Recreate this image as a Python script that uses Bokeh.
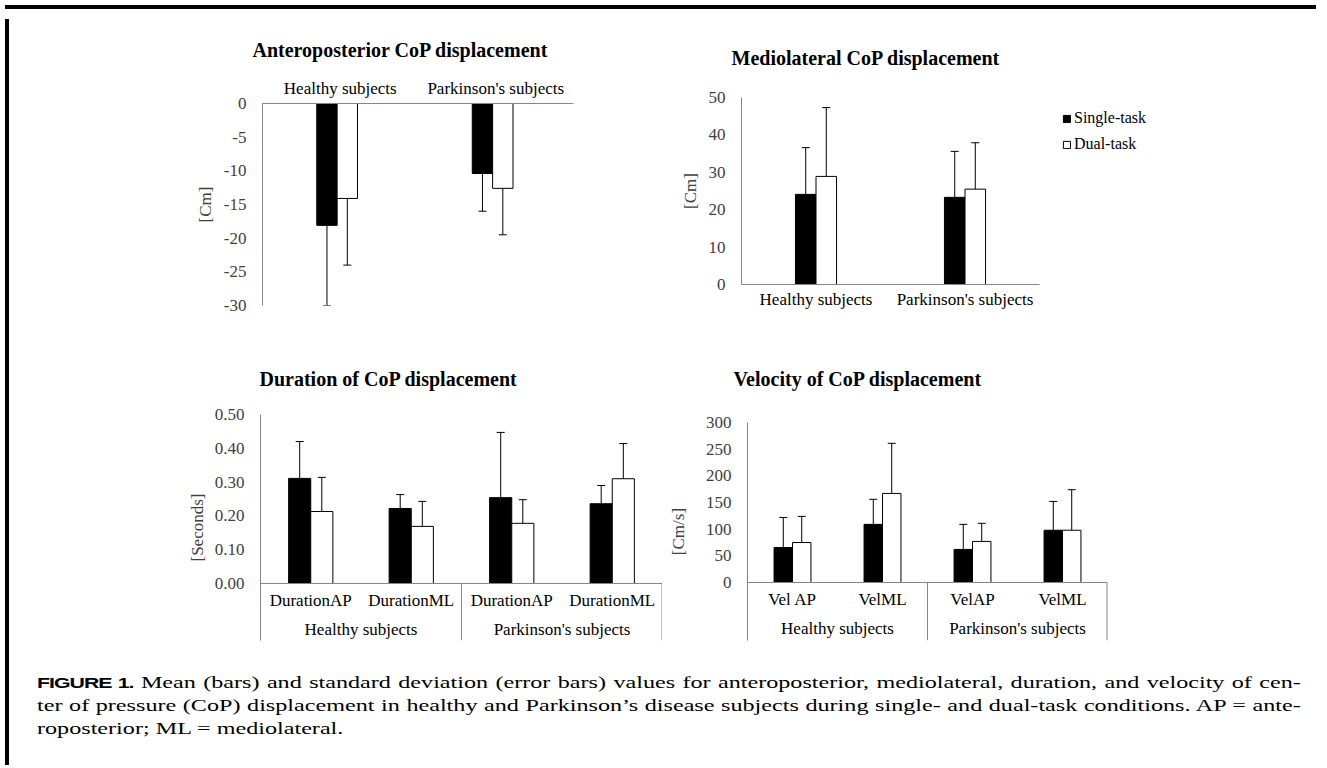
import numpy as np
from bokeh.plotting import figure
from bokeh.models import (ColumnDataSource, FactorRange, Range1d, FixedTicker, Whisker, TeeHead,
                          Legend, LegendItem, CategoricalAxis, Div, NumeralTickFormatter)
from bokeh.transform import dodge
from bokeh.layouts import column, row
from bokeh.embed import file_html
from bokeh.resources import INLINE

SERIF = "Liberation Serif"
AXIS_GRAY = "#868686"
TICK_COLOR = "#404040"

# ---------------- data ----------------
groups = ["Healthy subjects", "Parkinson's subjects"]
series_names = ["Single-task", "Dual-task"]

ap_single = [-18.1, -10.4]
ap_single_sd = [11.9, 5.6]
ap_dual = [-14.1, -12.6]
ap_dual_sd = [9.9, 6.9]
ap_ticks = [0, -5, -10, -15, -20, -25, -30]

ml_single = [24.1, 23.3]
ml_single_sd = [12.5, 12.3]
ml_dual = [28.9, 25.5]
ml_dual_sd = [18.4, 12.4]
ml_ticks = [0, 10, 20, 30, 40, 50]

dur_subs = [["DurationAP", "DurationML"], ["DurationAP", "DurationML"]]
dur_single = [0.311, 0.222, 0.254, 0.236]
dur_single_sd = [0.109, 0.041, 0.193, 0.054]
dur_dual = [0.213, 0.169, 0.178, 0.310]
dur_dual_sd = [0.101, 0.074, 0.070, 0.104]
dur_ticks = [0.0, 0.1, 0.2, 0.3, 0.4, 0.5]

vel_subs = [["Vel AP", "VelML"], ["VelAP", "VelML"]]
vel_single = [65.6, 109, 62, 98]
vel_single_sd = [56.4, 47, 47, 54]
vel_dual = [75, 167, 77, 98]
vel_dual_sd = [49, 94, 34, 76]
vel_ticks = [0, 50, 100, 150, 200, 250, 300]

titles = ["Anteroposterior CoP displacement", "Mediolateral CoP displacement",
          "Duration of CoP displacement", "Velocity of CoP displacement"]


# ---------------- layout helpers ----------------
def pix_range(hi_val, hi_px, lo_val, lo_px, frame_top, frame_bottom):
    """Range whose hi_val sits at hi_px and lo_val at lo_px inside a frame
    spanning frame_top..frame_bottom (screen pixels, downwards)."""
    per_px = (hi_val - lo_val) / (lo_px - hi_px)
    start = lo_val - (frame_bottom - lo_px) * per_px
    end = hi_val + (hi_px - frame_top) * per_px
    return Range1d(start, end)


def base_fig(width, height, x_range, y_range, borders, x_axis_location="below"):
    l, r, t, b = borders
    p = figure(width=width, height=height, x_range=x_range, y_range=y_range,
               output_backend="svg", toolbar_location=None, x_axis_location=x_axis_location,
               min_border_left=l, min_border_right=r, min_border_top=t, min_border_bottom=b)
    p.frame_align = False
    p.xgrid.visible = False
    p.ygrid.visible = False
    p.outline_line_color = None
    p.background_fill_color = "white"
    p.border_fill_color = "white"
    return p


def set_title(p, text, offset, standoff):
    p.title.text = text
    p.title.align = "left"
    p.title.offset = offset
    p.title.standoff = standoff
    p.title.text_font = SERIF
    p.title.text_font_size = "20px"
    p.title.text_font_style = "bold"
    p.title.text_color = "black"


def style_yaxis(p, ticks, label, label_standoff, fmt):
    ax = p.yaxis[0]
    ax.ticker = FixedTicker(ticks=ticks)
    ax.formatter = NumeralTickFormatter(format=fmt)
    ax.axis_line_color = AXIS_GRAY
    ax.major_tick_line_color = None
    ax.minor_tick_line_color = None
    ax.major_tick_out = 0
    ax.major_tick_in = 0
    ax.minor_tick_out = 0
    ax.minor_tick_in = 0
    ax.major_label_standoff = 16
    ax.major_label_text_font = SERIF
    ax.major_label_text_font_size = "17px"
    ax.major_label_text_color = TICK_COLOR
    ax.axis_label = label
    ax.axis_label_text_font = SERIF
    ax.axis_label_text_font_size = "17px"
    ax.axis_label_text_font_style = "normal"
    ax.axis_label_text_color = TICK_COLOR
    ax.axis_label_standoff = label_standoff


def style_xaxis(ax, standoff):
    ax.axis_line_color = AXIS_GRAY
    ax.major_tick_line_color = None
    ax.minor_tick_line_color = None
    ax.major_tick_out = 0
    ax.major_tick_in = 0
    ax.major_label_standoff = standoff
    ax.major_label_text_font = SERIF
    ax.major_label_text_font_size = "17px"
    ax.major_label_text_color = "black"
    ax.separator_line_color = None
    ax.group_text_font = SERIF
    ax.group_text_font_size = "17px"
    ax.group_text_font_style = "normal"
    ax.group_text_color = "black"
    return ax


def add_pair(p, src, off, width, neg=False, shift=0.0):
    rs = []
    for name, color, sgn in (("single", "black", -1), ("dual", "white", 1)):
        r = p.vbar(x=dodge("x", sgn * off + shift, range=p.x_range), top=name, bottom=0,
                   width=width, source=src, fill_color=color, line_color="black", line_width=1)
        head = TeeHead(size=8, line_color="black", line_width=1)
        base = dodge("x", sgn * off + shift, range=p.x_range)
        if neg:
            w = Whisker(source=src, base=base, lower=name + "_end", upper=name,
                        lower_head=head, upper_head=None, line_color="black", line_width=1)
        else:
            w = Whisker(source=src, base=base, lower=name, upper=name + "_end",
                        upper_head=head, lower_head=None, line_color="black", line_width=1)
        p.add_layout(w)
        rs.append(r)
    return rs


TOP_H = 306
BOT_H = 335

# ---------------- A: anteroposterior ----------------
srcA = ColumnDataSource(dict(
    x=groups, single=ap_single, dual=ap_dual,
    single_end=list(np.array(ap_single) - np.array(ap_single_sd)),
    dual_end=list(np.array(ap_dual) - np.array(ap_dual_sd))))
pA = base_fig(608, TOP_H, FactorRange(*groups, range_padding=0, factor_padding=0),
              Range1d(min(ap_ticks), max(ap_ticks)), (248, 49, 89, 15), x_axis_location="above")
set_title(pA, titles[0], -10, 29)
style_yaxis(pA, ap_ticks, "[Cm]", 6, "0")
style_xaxis(pA.xaxis[0], 6)
add_pair(pA, srcA, 0.0655, 0.131, neg=True, shift=-0.02)

# ---------------- B: mediolateral ----------------
# one blank slot to the right of the groups gives room for the legend inside the frame
srcB = ColumnDataSource(dict(
    x=groups, single=ml_single, dual=ml_dual,
    single_end=list(np.array(ml_single) + np.array(ml_single_sd)),
    dual_end=list(np.array(ml_dual) + np.array(ml_dual_sd))))
pB = base_fig(699, TOP_H, FactorRange(*(groups + [""]), range_padding=0, factor_padding=0),
              Range1d(min(ml_ticks), max(ml_ticks)), (119, 133, 83, 36))
set_title(pB, titles[1], -10, 57)
style_yaxis(pB, ml_ticks, "[Cm]", 6, "0")
style_xaxis(pB.xaxis[0], 5)
pB.xaxis[0].bounds = (0, len(groups))
rB = add_pair(pB, srcB, 0.069, 0.138)
legend = Legend(items=[LegendItem(label=series_names[0], renderers=[rB[0]]),
                       LegendItem(label=series_names[1], renderers=[rB[1]])],
                location=(321, 130), orientation="vertical",
                border_line_color=None, background_fill_alpha=0,
                padding=0, margin=0, spacing=6, glyph_width=9, glyph_height=9,
                label_standoff=3, label_height=20,
                label_text_font=SERIF, label_text_font_size="16px", label_text_color="black")
pB.add_layout(legend)


# ---------------- nested charts ----------------
def nested_chart(width, borders, frame, subs, single, single_sd, dual, dual_sd, ticks,
                 hi_px, lo_px, title, title_off, title_standoff, ylabel, ylabel_standoff,
                 off, bw, fmt):
    factors = [(g, s) for g, ss in zip(groups, subs) for s in ss]
    src = ColumnDataSource(dict(
        x=factors, single=single, dual=dual,
        single_end=list(np.array(single) + np.array(single_sd)),
        dual_end=list(np.array(dual) + np.array(dual_sd))))
    xr = FactorRange(*factors, range_padding=0, factor_padding=0, group_padding=0)
    yr = pix_range(max(ticks), hi_px, min(ticks), lo_px, *frame)
    p = base_fig(width, BOT_H, xr, yr, borders, x_axis_location=None)
    set_title(p, title, title_off, title_standoff)
    style_yaxis(p, ticks, ylabel, ylabel_standoff, fmt)
    xa = style_xaxis(CategoricalAxis(fixed_location=0), 7)
    p.add_layout(xa, "below")
    bounds = list(np.cumsum([len(s) for s in subs]).astype(float))
    p.segment(x0=bounds, y0=[0] * len(bounds), x1=bounds, y1=[yr.start] * len(bounds),
              line_color=AXIS_GRAY, line_width=[1] * (len(bounds) - 1) + [2])
    add_pair(p, src, off, bw)
    return p


pC = nested_chart(648, (246, 0, 94, 15), (414, 640), dur_subs, dur_single, dur_single_sd,
                  dur_dual, dur_dual_sd, dur_ticks, 414, 583, titles[2], -1, 49,
                  "[Seconds]", 5, 0.11, 0.22, "0.00")
pD = nested_chart(659, (85, 214, 102, 15), (422, 640), vel_subs, vel_single, vel_single_sd,
                  vel_dual, vel_dual_sd, vel_ticks, 422, 582, titles[3], -14, 65,
                  "[Cm/s]", 15, 0.1025, 0.205, "0")

# ---------------- caption ----------------
k = 1.42
cap_left = 18
cap_w = int((1283 - cap_left) / k)
caption_html = f"""
<div style="position:relative;width:1307px;height:105px;font-family:'Liberation Serif',serif;font-size:17px;color:#000;">
 <div style="position:absolute;left:{cap_left}px;top:11px;width:{cap_w}px;line-height:23px;transform:scaleX({k});transform-origin:0 0;">
  <div style="text-align:justify;text-align-last:justify;"><span style="font-family:'Liberation Sans',sans-serif;font-weight:bold;font-size:15px;letter-spacing:-0.7px;">FIGURE 1.</span> Mean (bars) and standard deviation (error bars) values for anteroposterior, mediolateral, duration, and velocity of cen-</div>
  <div style="text-align:justify;text-align-last:justify;">ter of pressure (CoP) displacement in healthy and Parkinson’s disease subjects during single- and dual-task conditions. AP = ante-</div>
  <div style="text-align:left;">roposterior; ML = mediolateral.</div>
 </div>
</div>
"""
caption = Div(text=caption_html, width=1307, height=105)

top_border = Div(text="", width=1311, height=4, styles={"background-color": "#000000"})
left_border = Div(text="", width=4, height=746, styles={"background-color": "#000000"})

content = column(row(pA, pB), row(pC, pD), caption)
layout = column(top_border, row(left_border, content))

open("out.html", "w").write(file_html(layout, INLINE))
